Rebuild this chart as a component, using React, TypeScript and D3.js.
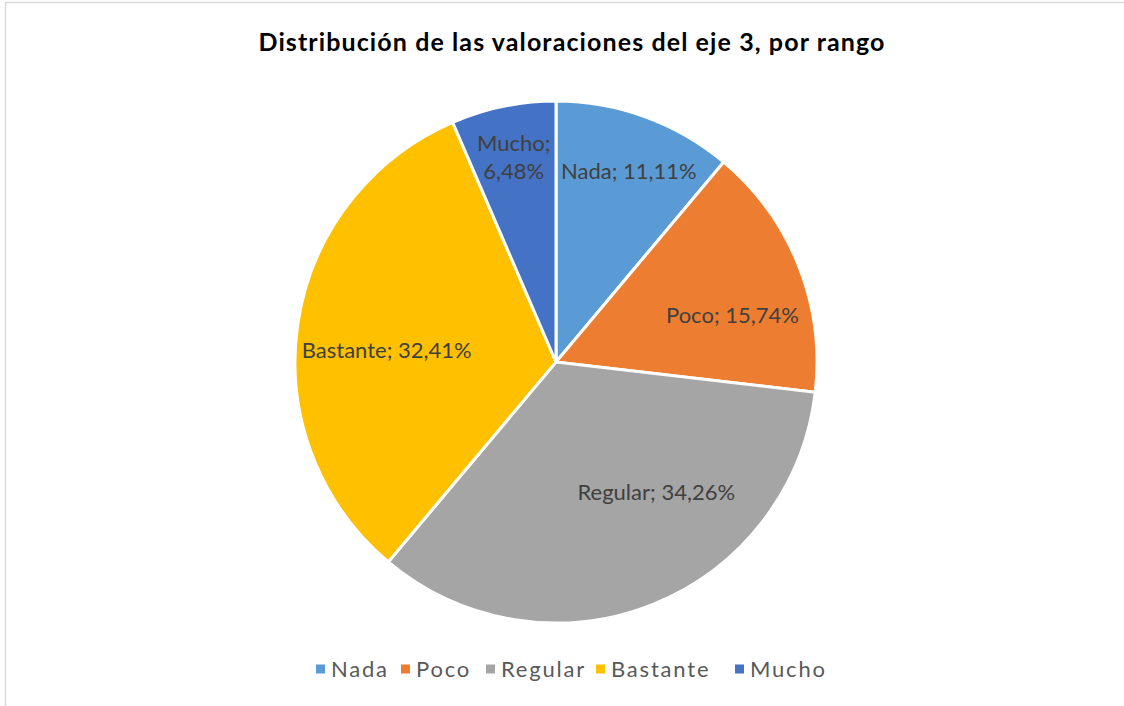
import React from "react";
import * as d3 from "d3";

const categories = ["Nada", "Poco", "Regular", "Bastante", "Mucho"];
const values = [11.11, 15.74, 34.26, 32.41, 6.48];
const colors = ["#5B9BD5", "#ED7D31", "#A5A5A5", "#FFC000", "#4472C4"];
const labelLines = [["Nada; 11,11%"], ["Poco; 15,74%"], ["Regular; 34,26%"], ["Bastante; 32,41%"], ["Mucho;", "6,48%"]];
// label placement (fraction of radius, angle nudge in degrees) approximating Excel best-fit
const labelRadius = [0.783, 0.70, 0.63, 0.65, 0.80];
const labelAngleNudge = [0.9, 6.7, -15.9, -4.3, 0];

const W = 1124;
const H = 706;
const FONT = "Lato, 'Open Sans', sans-serif";

export default function App() {
  const cx = 556;
  const cy = 362;
  const R = 261;
  const pie = d3.pie<number>().sort(null).value((d) => d);
  const arcs = pie(values);
  const arcGen = d3.arc<d3.PieArcDatum<number>>().innerRadius(0).outerRadius(R);

  const legendX = [316, 401, 486, 596, 735];

  return (
    <svg width={W} height={H} style={{ position: "absolute", left: 0, top: 0, background: "#fff" }}>
      <rect x={5.5} y={2.5} width={W + 20} height={H + 20} fill="#fff" stroke="#d9d9d9" strokeWidth={1.5} />
      <text x={572} y={51} textAnchor="middle" fontFamily={FONT} fontWeight="bold" fontSize={25} letterSpacing={1.1} fill="#000">
        Distribución de las valoraciones del eje 3, por rango
      </text>
      <g transform={`translate(${cx},${cy})`}>
        {arcs.map((a, i) => (
          <path key={i} d={arcGen(a) || ""} fill={colors[i]} stroke="#fff" strokeWidth={3} />
        ))}
        {arcs.map((a, i) => {
          const mid = (a.startAngle + a.endAngle) / 2 + (labelAngleNudge[i] * Math.PI) / 180;
          const r = R * labelRadius[i];
          const x = r * Math.sin(mid);
          const y = -r * Math.cos(mid);
          const lines = labelLines[i];
          const lh = 28;
          return (
            <text key={i} x={x} y={y} textAnchor="middle" fontFamily={FONT} fontSize={22} fill="#404040">
              {lines.map((l, j) => (
                <tspan key={j} x={x} y={y + (j - (lines.length - 1) / 2) * lh} dy="0.35em">
                  {l}
                </tspan>
              ))}
            </text>
          );
        })}
      </g>
      <g>
        {categories.map((c, i) => (
          <g key={c} transform={`translate(${legendX[i]},669)`}>
            <rect x={0} y={-4.5} width={9} height={9} fill={colors[i]} />
            <text x={15} y={0} dy="0.35em" fontFamily={FONT} fontSize={22} letterSpacing={1.8} fill="#595959">
              {c}
            </text>
          </g>
        ))}
      </g>
    </svg>
  );
}
